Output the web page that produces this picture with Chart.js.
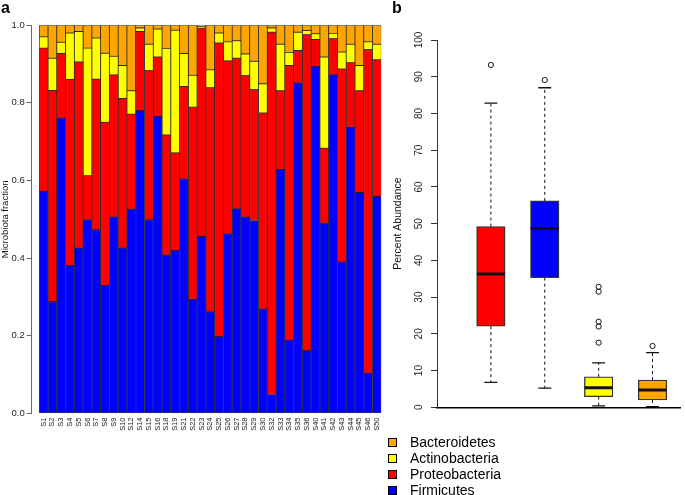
<!DOCTYPE html>
<html>
<head>
<meta charset="utf-8">
<script src="https://cdn.jsdelivr.net/npm/chart.js@4.4.0/dist/chart.umd.min.js"></script>
<style>
  html, body { margin: 0; padding: 0; background: #fff; overflow: hidden; }
  #wrap { position: relative; width: 685px; height: 495px; font-family: "Liberation Sans", Arial, sans-serif; color: #000; }
  canvas { position: absolute; }
  #chartA { left: 0; top: 0; }
  #chartB { left: 380px; top: 0; }
  .panel { position: absolute; font-weight: bold; font-size: 16px; line-height: 16px; }
  #legend { position: absolute; left: 388px; top: 434px; font-size: 14px; }
  #legend div { height: 16px; line-height: 16px; white-space: nowrap; }
  #legend span { display: inline-block; width: 7px; height: 7px; border: 1px solid #000; margin-right: 13px; vertical-align: middle; position: relative; top: -1px; }
</style>
</head>
<body>
<div id="wrap">
  <canvas id="chartA" width="390" height="450"></canvas>
  <canvas id="chartB" width="305" height="420"></canvas>
  <div class="panel" style="left:1px; top:0px;">a</div>
  <div class="panel" style="left:392px; top:0px;">b</div>
  <div id="legend"></div>
</div>
<script>
// ---- panel a: fraction of each phylum per sample ----
const SAMPLES = ['S1','S2','S3','S4','S5','S6','S7','S8','S9','S10','S12','S14','S15','S16','S18','S19',
  'S21','S22','S23','S24','S25','S26','S27','S28','S29','S30','S32','S33','S34','S35','S36',
  'S40','S41','S42','S43','S44','S45','S46','S50'];
const FIRMICUTES = [0.572,0.288,0.761,0.381,0.426,0.499,0.473,0.330,0.506,0.426,0.526,0.780,0.499,0.765,0.408,0.420,
  0.604,0.294,0.456,0.262,0.198,0.463,0.527,0.506,0.497,0.269,0.049,0.628,0.189,0.851,0.162,
  0.894,0.490,0.872,0.390,0.737,0.569,0.104,0.559];
const PROTEOBACTERIA = [0.369,0.544,0.166,0.479,0.479,0.114,0.388,0.420,0.366,0.385,0.245,0.204,0.384,0.153,0.309,0.251,
  0.238,0.495,0.537,0.577,0.756,0.445,0.388,0.364,0.337,0.505,0.933,0.203,0.707,0.084,0.814,
  0.069,0.193,0.093,0.497,0.167,0.262,0.833,0.352];
const ACTINOBACTERIA = [0.029,0.083,0.029,0.120,0.079,0.328,0.106,0.178,0.048,0.085,0.060,0.009,0.068,0.072,0.223,0.316,
  0.085,0.082,0.003,0.046,0.026,0.049,0.045,0.056,0.073,0.075,0.011,0.120,0.034,0.047,0.010,
  0.015,0.235,0.014,0.044,0.047,0.065,0.020,0.040];
const BACTEROIDETES = [0.030,0.085,0.044,0.020,0.016,0.059,0.033,0.072,0.080,0.104,0.169,0.007,0.049,0.010,0.060,0.013,
  0.073,0.129,0.004,0.115,0.020,0.043,0.040,0.074,0.093,0.151,0.007,0.049,0.070,0.018,0.014,
  0.022,0.082,0.021,0.069,0.049,0.104,0.043,0.049];
const Y_TICKS_A = [0, 0.2, 0.4, 0.6, 0.8, 1.0];

// ---- panel b: box plot stats (percent abundance) ----
const BOX_GROUPS = ['Proteobacteria', 'Firmicutes', 'Actinobacteria', 'Bacteroidetes'];
const BOX_POS = [1, 2, 3, 4];
const WHISK_LO = [6.8, 5.2, 0.4, 0.2];
const Q1 = [22.1, 35.3, 2.9, 2.0];
const MEDIAN = [36.3, 48.7, 5.3, 4.7];
const Q3 = [49.2, 56.2, 8.3, 7.4];
const WHISK_HI = [82.8, 87.0, 12.1, 14.9];
const OUTLIERS = [[93.2], [89.1], [17.6, 22.0, 23.3, 31.5, 32.8], [16.7]];

// colours
const COL = {
  Firmicutes: '#0000FF',
  Proteobacteria: '#FF0000',
  Actinobacteria: '#FFFF00',
  Bacteroidetes: '#FFA500'
};
const FONT = "'Liberation Sans', Arial, sans-serif";
Chart.defaults.font.family = FONT;
Chart.defaults.color = '#222';

// legend (top to bottom like the figure)
const legendOrder = ['Bacteroidetes', 'Actinobacteria', 'Proteobacteria', 'Firmicutes'];
document.getElementById('legend').innerHTML = legendOrder
  .map(n => '<div><span style="background:' + COL[n] + '"></span>' + n + '</div>').join('');

// stacked bars
function stackSet(name, values) {
  return {
    label: name,
    data: values.map((v, i) => ({ x: i + 1, y: v })),
    backgroundColor: COL[name],
    borderColor: 'rgba(0,0,0,0.75)',
    borderWidth: 0.8,
    borderSkipped: false,
    barPercentage: 1,
    categoryPercentage: 1
  };
}

new Chart(document.getElementById('chartA'), {
  type: 'bar',
  data: {
    datasets: [
      stackSet('Firmicutes', FIRMICUTES),
      stackSet('Proteobacteria', PROTEOBACTERIA),
      stackSet('Actinobacteria', ACTINOBACTERIA),
      stackSet('Bacteroidetes', BACTEROIDETES)
    ]
  },
  options: {
    responsive: false,
    animation: false,
    events: [],
    layout: { padding: { top: 25.2, right: 6.7, left: 0, bottom: 0 } },
    plugins: { legend: { display: false }, tooltip: { enabled: false } },
    scales: {
      x: {
        type: 'linear',
        stacked: true,
        offset: false,
        min: -0.362,
        max: SAMPLES.length + 0.5,
        afterBuildTicks: s => { s.ticks = SAMPLES.map((_, i) => ({ value: i + 1 })); },
        afterFit: s => { s.height = 36.5; },
        grid: { display: false, drawTicks: false },
        border: { display: false },
        ticks: {
          autoSkip: false,
          minRotation: 90,
          maxRotation: 90,
          padding: 4,
          font: { size: 7.5 },
          color: '#222',
          callback: (v, i) => SAMPLES[i]
        }
      },
      y: {
        stacked: true,
        min: 0,
        max: 1,
        afterBuildTicks: s => { s.ticks = Y_TICKS_A.map(v => ({ value: v })); },
        afterFit: s => { s.width = 31.7; },
        grid: { display: true, drawOnChartArea: false, tickLength: 5, color: '#666' },
        border: { display: true, color: '#666' },
        ticks: { padding: 2, font: { size: 9.5 }, color: '#222', callback: v => v.toFixed(1) },
        title: { display: true, text: 'Microbiota fraction', font: { size: 9.5 }, color: '#111', padding: { top: 0, bottom: 0 } }
      }
    }
  }
});

// box plot
const BOX_HALF = 0.26;   // half box width in x units
const CAP_HALF = 0.12;   // half whisker-cap width in x units
const boxSets = [{
  type: 'bar',
  order: 3,
  data: BOX_POS.map((p, i) => ({ x: p, y: [Q1[i], Q3[i]] })),
  backgroundColor: BOX_GROUPS.map(g => COL[g]),
  borderColor: '#333',
  borderWidth: 1.3,
  borderSkipped: false,
  barThickness: 28.5
}];
const lineBase = { type: 'line', pointRadius: 0, fill: false, tension: 0, borderColor: '#111' };
BOX_POS.forEach((p, i) => {
  boxSets.push(Object.assign({}, lineBase, { order: 2, borderWidth: 1, borderDash: [3, 3],
    data: [{ x: p, y: Q3[i] }, { x: p, y: WHISK_HI[i] }] }));
  boxSets.push(Object.assign({}, lineBase, { order: 2, borderWidth: 1, borderDash: [3, 3],
    data: [{ x: p, y: Q1[i] }, { x: p, y: WHISK_LO[i] }] }));
  boxSets.push(Object.assign({}, lineBase, { order: 1, borderWidth: 1.3,
    data: [{ x: p - CAP_HALF, y: WHISK_HI[i] }, { x: p + CAP_HALF, y: WHISK_HI[i] }] }));
  boxSets.push(Object.assign({}, lineBase, { order: 1, borderWidth: 1.3,
    data: [{ x: p - CAP_HALF, y: WHISK_LO[i] }, { x: p + CAP_HALF, y: WHISK_LO[i] }] }));
  boxSets.push(Object.assign({}, lineBase, { order: 1, borderWidth: 3,
    data: [{ x: p - BOX_HALF, y: MEDIAN[i] }, { x: p + BOX_HALF, y: MEDIAN[i] }] }));
});
boxSets.push({
  type: 'scatter',
  order: 0,
  data: OUTLIERS.flatMap((arr, i) => arr.map(v => ({ x: BOX_POS[i], y: v }))),
  pointRadius: 2.6,
  pointBorderWidth: 1,
  pointBorderColor: '#111',
  pointBackgroundColor: 'rgba(255,255,255,0)'
});

new Chart(document.getElementById('chartB'), {
  type: 'bar',
  data: { datasets: boxSets },
  options: {
    responsive: false,
    animation: false,
    events: [],
    layout: { padding: { top: 40, right: 0, left: 0, bottom: 12.7 } },
    plugins: { legend: { display: false }, tooltip: { enabled: false } },
    scales: {
      x: {
        type: 'linear',
        offset: false,
        min: 0,
        max: 4.51,
        afterFit: s => { s.height = 0; },
        grid: { display: false, drawTicks: false },
        border: { display: true, color: '#000', width: 1.5 },
        ticks: { display: false }
      },
      y: {
        min: 0,
        max: 100,
        afterFit: s => { s.width = 57; s.paddingTop = 0; s.paddingBottom = 0; },
        grid: { display: true, drawOnChartArea: false, tickLength: 6, color: '#333' },
        border: { display: true, color: '#333' },
        ticks: { stepSize: 10, minRotation: 90, maxRotation: 90, crossAlign: 'center', padding: 3.6, font: { size: 10 }, color: '#222' },
        title: { display: true, text: 'Percent Abundance', font: { size: 10.5 }, color: '#111', padding: { top: 12, bottom: 0 } }
      }
    }
  }
});
</script>
</body>
</html>
